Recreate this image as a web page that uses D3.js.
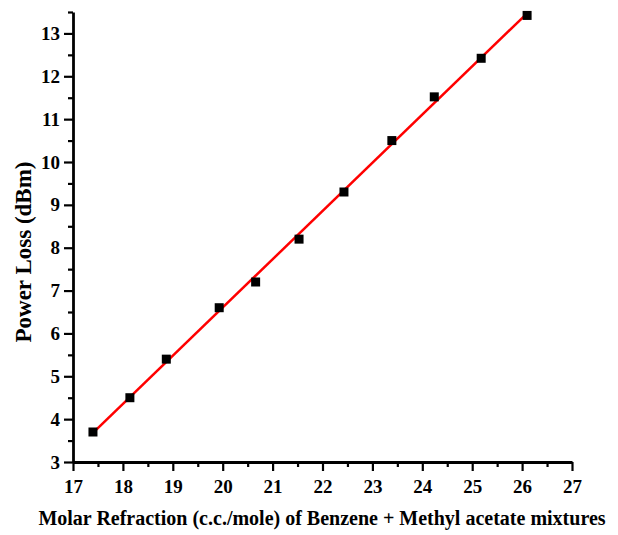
<!DOCTYPE html>
<html><head><meta charset="utf-8">
<script src="https://cdn.jsdelivr.net/npm/d3@7"></script>
<style>
body{margin:0;background:#fff;}
text{font-family:"Liberation Serif","Times New Roman",serif;font-weight:bold;fill:#000;}
</style></head>
<body><svg id="c" width="618" height="535"></svg>
<script>
const xValues = [17.40, 18.14, 18.87, 19.93, 20.66, 21.53, 22.43, 23.39, 24.24, 25.18, 26.10];
const yValues = [3.70, 4.50, 5.40, 6.60, 7.20, 8.20, 9.30, 10.50, 11.52, 12.42, 13.42];
const xTicks = [17,18,19,20,21,22,23,24,25,26,27];
const yTicks = [3,4,5,6,7,8,9,10,11,12,13];
const xLabel = "Molar Refraction (c.c./mole) of Benzene + Methyl acetate mixtures";
const yLabel = "Power Loss (dBm)";

const svg = d3.select("#c");
const x = d3.scaleLinear().domain([17,27]).range([73,572]);
const y = d3.scaleLinear().domain([3,13.5]).range([462,12]);

const xMinor = d3.range(17.5,27,1);
const yMinor = d3.range(3.5,13.6,1);

const gx = svg.append("g").attr("transform","translate(0,462)");
gx.call(d3.axisBottom(x).tickValues(xTicks).tickFormat(d3.format("d")).tickSizeInner(9).tickSizeOuter(0).tickPadding(9));
gx.append("g").call(d3.axisBottom(x).tickValues(xMinor).tickFormat("").tickSize(5).tickSizeOuter(0)).select(".domain").remove();

const gy = svg.append("g").attr("transform","translate(73,0)");
gy.call(d3.axisLeft(y).tickValues(yTicks).tickFormat(d3.format("d")).tickSizeInner(9).tickSizeOuter(0).tickPadding(4));
gy.append("g").call(d3.axisLeft(y).tickValues(yMinor).tickFormat("").tickSize(5).tickSizeOuter(0)).select(".domain").remove();

svg.selectAll(".domain").attr("stroke","#000").attr("stroke-width",2.8);
svg.selectAll(".tick line").attr("stroke","#000").attr("stroke-width",2.2);
svg.selectAll("g").attr("font-size",null).attr("font-family",null);
svg.selectAll(".tick text").style("font-size","19px").style("font-family","'Liberation Serif',serif").style("font-weight","bold");

// linear fit
const n = xValues.length;
const mx = d3.mean(xValues), my = d3.mean(yValues);
let sxy=0, sxx=0;
for(let i=0;i<n;i++){sxy+=(xValues[i]-mx)*(yValues[i]-my); sxx+=(xValues[i]-mx)**2;}
const slope = sxy/sxx, intercept = my - slope*mx;
const x0 = d3.min(xValues), x1 = d3.max(xValues);
svg.append("line")
  .attr("x1",x(x0)).attr("y1",y(intercept+slope*x0))
  .attr("x2",x(x1)).attr("y2",y(intercept+slope*x1))
  .attr("stroke","#ff0000").attr("stroke-width",2.5);

svg.selectAll("rect.pt").data(xValues).enter().append("rect").attr("class","pt")
  .attr("x",(d)=>x(d)-4.5).attr("y",(d,i)=>y(yValues[i])-4.5)
  .attr("width",9).attr("height",9).attr("fill","#000");

svg.append("text").attr("x",322).attr("y",525).attr("text-anchor","middle")
  .style("font-size","20px").text(xLabel);
svg.append("text").attr("transform","translate(31,252) rotate(-90)").attr("text-anchor","middle")
  .style("font-size","23px").text(yLabel);
</script></body></html>
